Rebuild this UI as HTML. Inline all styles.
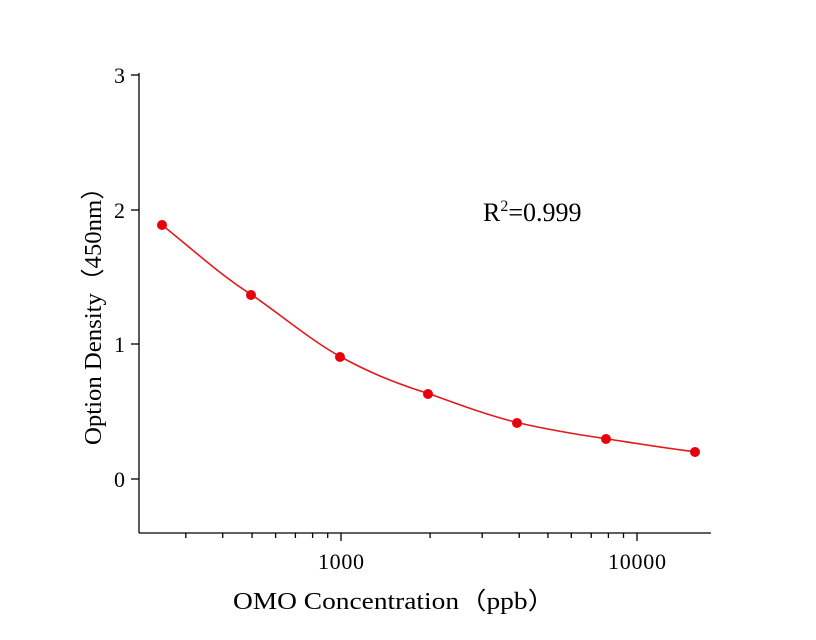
<!DOCTYPE html>
<html><head><style>body{margin:0;background:#fff}svg{display:block}</style></head><body>
<svg width="816" height="640" xmlns="http://www.w3.org/2000/svg" font-family="Liberation Serif, serif">
<g stroke="#000" stroke-width="1.3" fill="none">
<line x1="139" y1="73" x2="139" y2="533"/>
<line x1="139" y1="533" x2="711" y2="533"/>
<line x1="131" y1="75" x2="139" y2="75"/>
<line x1="131" y1="210" x2="139" y2="210"/>
<line x1="131" y1="344" x2="139" y2="344"/>
<line x1="131" y1="479" x2="139" y2="479"/>
<line x1="341" y1="533" x2="341" y2="541"/>
<line x1="637" y1="533" x2="637" y2="541"/>
<line x1="185.8" y1="533" x2="185.8" y2="538"/>
<line x1="222.7" y1="533" x2="222.7" y2="538"/>
<line x1="252.1" y1="533" x2="252.1" y2="538"/>
<line x1="275.6" y1="533" x2="275.6" y2="538"/>
<line x1="295.4" y1="533" x2="295.4" y2="538"/>
<line x1="312.6" y1="533" x2="312.6" y2="538"/>
<line x1="327.7" y1="533" x2="327.7" y2="538"/>
<line x1="430.1" y1="533" x2="430.1" y2="538"/>
<line x1="482.2" y1="533" x2="482.2" y2="538"/>
<line x1="519.2" y1="533" x2="519.2" y2="538"/>
<line x1="547.9" y1="533" x2="547.9" y2="538"/>
<line x1="571.3" y1="533" x2="571.3" y2="538"/>
<line x1="591.2" y1="533" x2="591.2" y2="538"/>
<line x1="608.4" y1="533" x2="608.4" y2="538"/>
<line x1="623.5" y1="533" x2="623.5" y2="538"/>
</g>
<g font-size="22" fill="#000">
<text x="125" y="83" text-anchor="end">3</text>
<text x="125" y="218" text-anchor="end">2</text>
<text x="125" y="352" text-anchor="end">1</text>
<text x="125" y="487" text-anchor="end">0</text>
<text x="341" y="569" text-anchor="middle" textLength="46">1000</text>
<text x="637" y="569" text-anchor="middle" textLength="58">10000</text>
<text x="233" y="609" font-size="24" textLength="322" lengthAdjust="spacingAndGlyphs">OMO  Concentration（ppb）</text>
<text transform="translate(101,445) rotate(-90)" font-size="24" textLength="270" lengthAdjust="spacingAndGlyphs">Option Density（450nm）</text>
<text x="483" y="221" font-size="26">R<tspan font-size="16" dy="-10">2</tspan><tspan dy="10">=0.999</tspan></text>
</g>
<path d="M162,225 C190,247 220,275 252,295 C285,318 312,341 341,357 C370,373 400,385 430,394 C460,405 490,416 519,423 C550,430 580,435 608,439 C640,444 670,449 697,452" stroke="#e31a1c" stroke-width="1.6" fill="none"/>
<g fill="#e8000b">
<circle cx="162" cy="225" r="5"/><circle cx="251" cy="295" r="5"/><circle cx="340" cy="357" r="5"/><circle cx="428" cy="394" r="5"/><circle cx="517" cy="423" r="5"/><circle cx="606" cy="439" r="5"/><circle cx="695" cy="452" r="5"/>
</g>
</svg>
</body></html>
